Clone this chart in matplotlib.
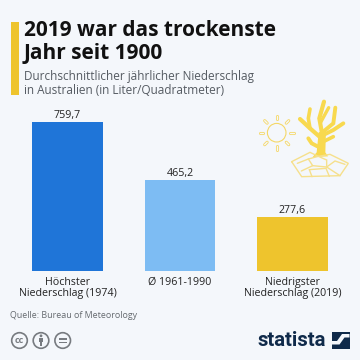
import matplotlib
matplotlib.use('Agg')
import matplotlib.pyplot as plt
from matplotlib.patches import Circle, Polygon, Rectangle
import numpy as np

# data
labels = ['Höchster\nNiederschlag (1974)', 'Ø 1961-1990', 'Niedrigster\nNiederschlag (2019)']
values = [759.7, 465.2, 277.6]
value_labels = ['759,7', '465,2', '277,6']
colors = ['#1f75d8', '#7dbcf3', '#eec42d']

BG = '#f4f7fb'
plt.rcParams['font.family'] = ['Open Sans', 'DejaVu Sans']

fig = plt.figure(figsize=(3.6, 3.6), dpi=100, facecolor=BG)

# bars, axis spans y=122..271 px of the picture
ax = fig.add_axes([32 / 360, 1 - 271 / 360, 296 / 360, 149 / 360])
ax.set_facecolor('none')
ax.bar([0, 1, 2], values, width=0.63, color=colors)
ax.set_xlim(-0.315, 2.315)
ax.set_ylim(0, 759.7)
ax.set_yticks([])
ax.set_xticks([0, 1, 2])
ax.set_xticklabels(labels, fontsize=7.7, color='#222222', linespacing=1.1)
ax.tick_params(axis='x', length=0, pad=4)
for s in ax.spines.values():
    s.set_visible(False)
for i, v in enumerate(values):
    ax.annotate(value_labels[i], (i, v), xytext=(0, 0.5), textcoords='offset points',
                ha='center', va='bottom', fontsize=7.7, color='#222222')

# overlay in picture pixels
ov = fig.add_axes([0, 0, 1, 1])
ov.set_xlim(0, 360)
ov.set_ylim(360, 0)
ov.axis('off')
ov.set_facecolor('none')

ov.add_patch(Rectangle((11, 22), 8, 73, color='#eec42d', lw=0))
ov.text(24, 30.5, '2019 war das trockenste', fontsize=15, fontweight='bold', color='#111111', va='center')
ov.text(24, 53, 'Jahr seit 1900', fontsize=15, fontweight='bold', color='#111111', va='center')
ov.text(24, 76.5, 'Durchschnittlicher jährlicher Niederschlag', fontsize=8.5, color='#555b62', va='center')
ov.text(24, 91, 'in Australien (in Liter/Quadratmeter)', fontsize=8.5, color='#555b62', va='center')
ov.text(10.5, 315, 'Quelle: Bureau of Meteorology', fontsize=6.4, color='#666b70', va='center')


def z(points):
    return [(290 + a / 3, 95 + b / 3) for a, b in points]


def line(points, lw, color):
    pts = z(points)
    ov.plot([p[0] for p in pts], [p[1] for p in pts], color=color, lw=lw,
            solid_capstyle='round', solid_joinstyle='miter')


# sun
yl = '#f5d867'
ov.add_patch(Circle((276.7, 132.7), 9.3, fill=False, ec=yl, lw=0.8))
for ang in range(0, 360, 45):
    t = np.deg2rad(ang)
    x0, x1 = 276.7 + 13.5 * np.cos(t), 276.7 + 17 * np.cos(t)
    y0, y1 = 132.7 + 13.5 * np.sin(t), 132.7 + 17 * np.sin(t)
    ov.plot([x0, x1], [y0, y1], color=yl, lw=2.2, solid_capstyle='round')
    ov.plot([x0, x1], [y0, y1], color=BG, lw=1.0, solid_capstyle='round')

# tree
tree_col = '#f8d94f'
ov.add_patch(Polygon(z([(68, 186), (80, 172), (86, 112), (108, 106), (106, 172), (114, 184)]),
                     closed=True, fc=tree_col, ec='none'))
line([(92, 128), (60, 100), (30, 72)], 3.0, tree_col)
line([(60, 100), (55, 70), (60, 42)], 2.6, tree_col)
line([(96, 115), (88, 70), (102, 20)], 3.0, tree_col)
line([(92, 82), (116, 38)], 2.4, tree_col)
line([(102, 108), (130, 85), (136, 38)], 2.8, tree_col)
line([(104, 118), (130, 105), (160, 85)], 2.8, tree_col)
line([(90, 158), (65, 145), (55, 130)], 2.8, tree_col)
line([(104, 138), (130, 125)], 2.6, tree_col)

# cracked ground
ground_col = '#f6e08c'
for g in [
    [(5, 200), (60, 172), (85, 184), (120, 178), (175, 205), (150, 242), (35, 245), (5, 200)],
    [(22, 205), (55, 192), (68, 212), (34, 228)],
    [(68, 212), (110, 216), (135, 198), (165, 208)],
    [(58, 224), (66, 245)],
    [(58, 224), (108, 220), (118, 244)],
    [(110, 216), (150, 242)],
    [(55, 192), (85, 184), (110, 195), (110, 216)],
]:
    line(g, 1.0, ground_col)

# cc icons
grey = '#777b80'
for cx in (19.5, 41, 62.7):
    ov.add_patch(Circle((cx, 340.5), 7.8, fill=False, ec=grey, lw=1.2))
ov.text(19.5, 340.3, 'cc', fontsize=6.5, fontweight='bold', color=grey, ha='center', va='center')
ov.add_patch(Circle((41, 335.8), 1.4, color=grey, lw=0))
ov.add_patch(Rectangle((38.7, 337.8), 4.6, 4.5, color=grey, lw=0))
ov.add_patch(Rectangle((39.8, 342), 2.4, 4, color=grey, lw=0))
ov.add_patch(Rectangle((58.8, 338), 7.8, 1.5, color=grey, lw=0))
ov.add_patch(Rectangle((58.8, 341.6), 7.8, 1.5, color=grey, lw=0))

# statista logo
navy = '#0f2a4a'
ov.text(326, 340, 'statista', fontsize=14.6, fontweight='bold', color=navy, ha='right', va='center',
        family=['Roboto', 'DejaVu Sans'])
ov.add_patch(Rectangle((331.5, 331.5), 18, 17.5, color=navy, lw=0))
ov.add_patch(Polygon([(331.5, 341), (337, 341), (342, 334), (349.5, 334), (349.5, 337.5), (344.5, 337.5),
                      (339.5, 344.5), (331.5, 344.5)], closed=True, fc=BG, ec='none'))

fig.savefig('out.png', dpi=100, facecolor=BG)
